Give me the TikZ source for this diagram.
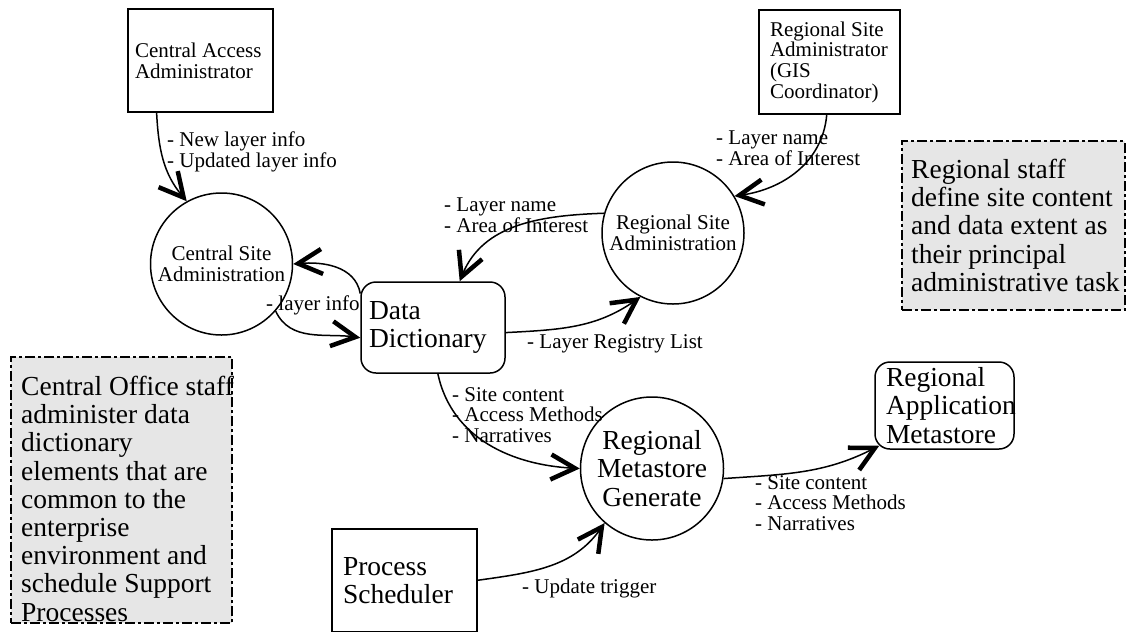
\documentclass[tikz,border=0pt]{standalone}
\usepackage{fontspec}
\setmainfont{Liberation Serif}
\usetikzlibrary{arrows.meta,calc}
\hyphenpenalty=10000
\exhyphenpenalty=10000
\definecolor{cmtfill}{RGB}{230,230,230}
\newcommand\smallfnt{\fontsize{21pt}{20.7pt}\selectfont}
\newcommand\bigfnt{\fontsize{27.5pt}{28.2pt}\selectfont}
\begin{document}
\begin{tikzpicture}[x=1pt,y=-1pt,
  ext/.style={draw, line width=1.6pt, rectangle, align=flush left, font=\smallfnt, inner ysep=0pt},
  proc/.style={draw, line width=1.5pt, circle, minimum size=142pt, inner sep=0pt, align=center, font=\smallfnt},
  store/.style={draw, line width=1.5pt, rectangle, rounded corners=15pt, align=flush left, font=\bigfnt, inner ysep=0pt},
  flow/.style={line width=1.5pt, -{Straight Barb[length=24pt,width=25pt,line width=4.5pt]}},
  lbl/.style={anchor=north west, inner sep=0pt, align=left, font=\smallfnt},
  note/.style={draw, line width=2pt, dash pattern=on 10pt off 3pt on 3pt off 3pt, fill=cmtfill, inner sep=0pt},
  notetext/.style={anchor=north west, inner sep=0pt, align=left, font=\bigfnt},
]
\fill[white] (0,0) rectangle (1126,633);
\useasboundingbox (0,0) rectangle (1126,633);

% comment boxes
\node[note, minimum width=221pt, minimum height=266pt] (cnote) at (121.5,490) {};
\node[note, minimum width=222.5pt, minimum height=169pt] (rnote) at (1013.25,225.5) {};
\node[notetext] (cnotetxt) at (21,376) {Central Office staff\\administer data\\dictionary\\elements that are\\common to the\\enterprise\\environment and\\schedule Support\\Processes};
\node[notetext] (rnotetxt) at (911,159) {Regional staff\\define site content\\and data extent as\\their principal\\administrative task};

% external entities
\node[ext, minimum width=145pt, minimum height=103pt, text width=131pt, inner xsep=7pt] (caa) at (200.5,60.5) {Central Access\\Administrator};
\node[ext, minimum width=141pt, minimum height=104pt, text width=119pt, inner xsep=11pt] (rsar) at (829.5,62) {Regional Site\\Administrator\\(GIS\\Coordinator)};
\node[ext, font=\bigfnt, minimum width=145pt, minimum height=102.5pt, text width=123pt, inner xsep=11pt] (ps) at (404.5,580.25) {Process\\Scheduler};

% processes
\node[proc] (csa) at (221.5,264) {Central Site\\Administration};
\node[proc] (rsa) at (673,233) {Regional Site\\Administration};
\node[proc, font=\bigfnt, minimum size=143pt] (rmg) at (652,468.5) {Regional\\Metastore\\Generate};

% stores
\node[store, minimum width=144pt, minimum height=91pt, text width=128pt, inner xsep=8pt] (dd) at (433,327.5) {Data\\Dictionary};
\node[store, minimum width=139pt, minimum height=87pt, text width=117pt, inner xsep=11pt] (ram) at (944.5,405.5) {Regional\\Application\\Metastore};

% flows
\draw[flow] (caa.-130) to[out=-87,in=130] (csa.119);
\draw[flow] (dd.155) to[out=100,in=5] (csa.0);
\draw[flow] (csa.-41) to[out=-65,in=172] (dd.188);
\draw[flow] (rsa.164) to[out=182,in=68] (dd.60);
\draw[flow] (rsar.-93) to[out=-95,in=8] (rsa.31);
\draw[flow] (dd.-4) to[out=3,in=215] (rsa.243);
\draw[flow] (dd.-84) to[out=-78,in=177] (rmg.180);
\draw[flow] (ps.0) to[out=8,in=235] (rmg.229);
\draw[flow] (rmg.-8) to[out=4,in=207] ($(ram.south west)+(5,-4)$);

% flow labels
\node[lbl] (l1) at (167,132) {- New layer info\\- Updated layer info};
\node[lbl] (l2) at (266,296) {- layer info};
\node[lbl] (l3) at (444,198) {- Layer name\\- Area of Interest};
\node[lbl] (l4) at (716,131) {- Layer name\\- Area of Interest};
\node[lbl] (l5) at (527,334) {- Layer Registry List};
\node[lbl] (l6) at (452,387) {- Site content\\- Access Methods\\- Narratives};
\node[lbl] (l7) at (522,579) {- Update trigger};
\node[lbl] (l8) at (755,475) {- Site content\\- Access Methods\\- Narratives};
\end{tikzpicture}
\end{document}
